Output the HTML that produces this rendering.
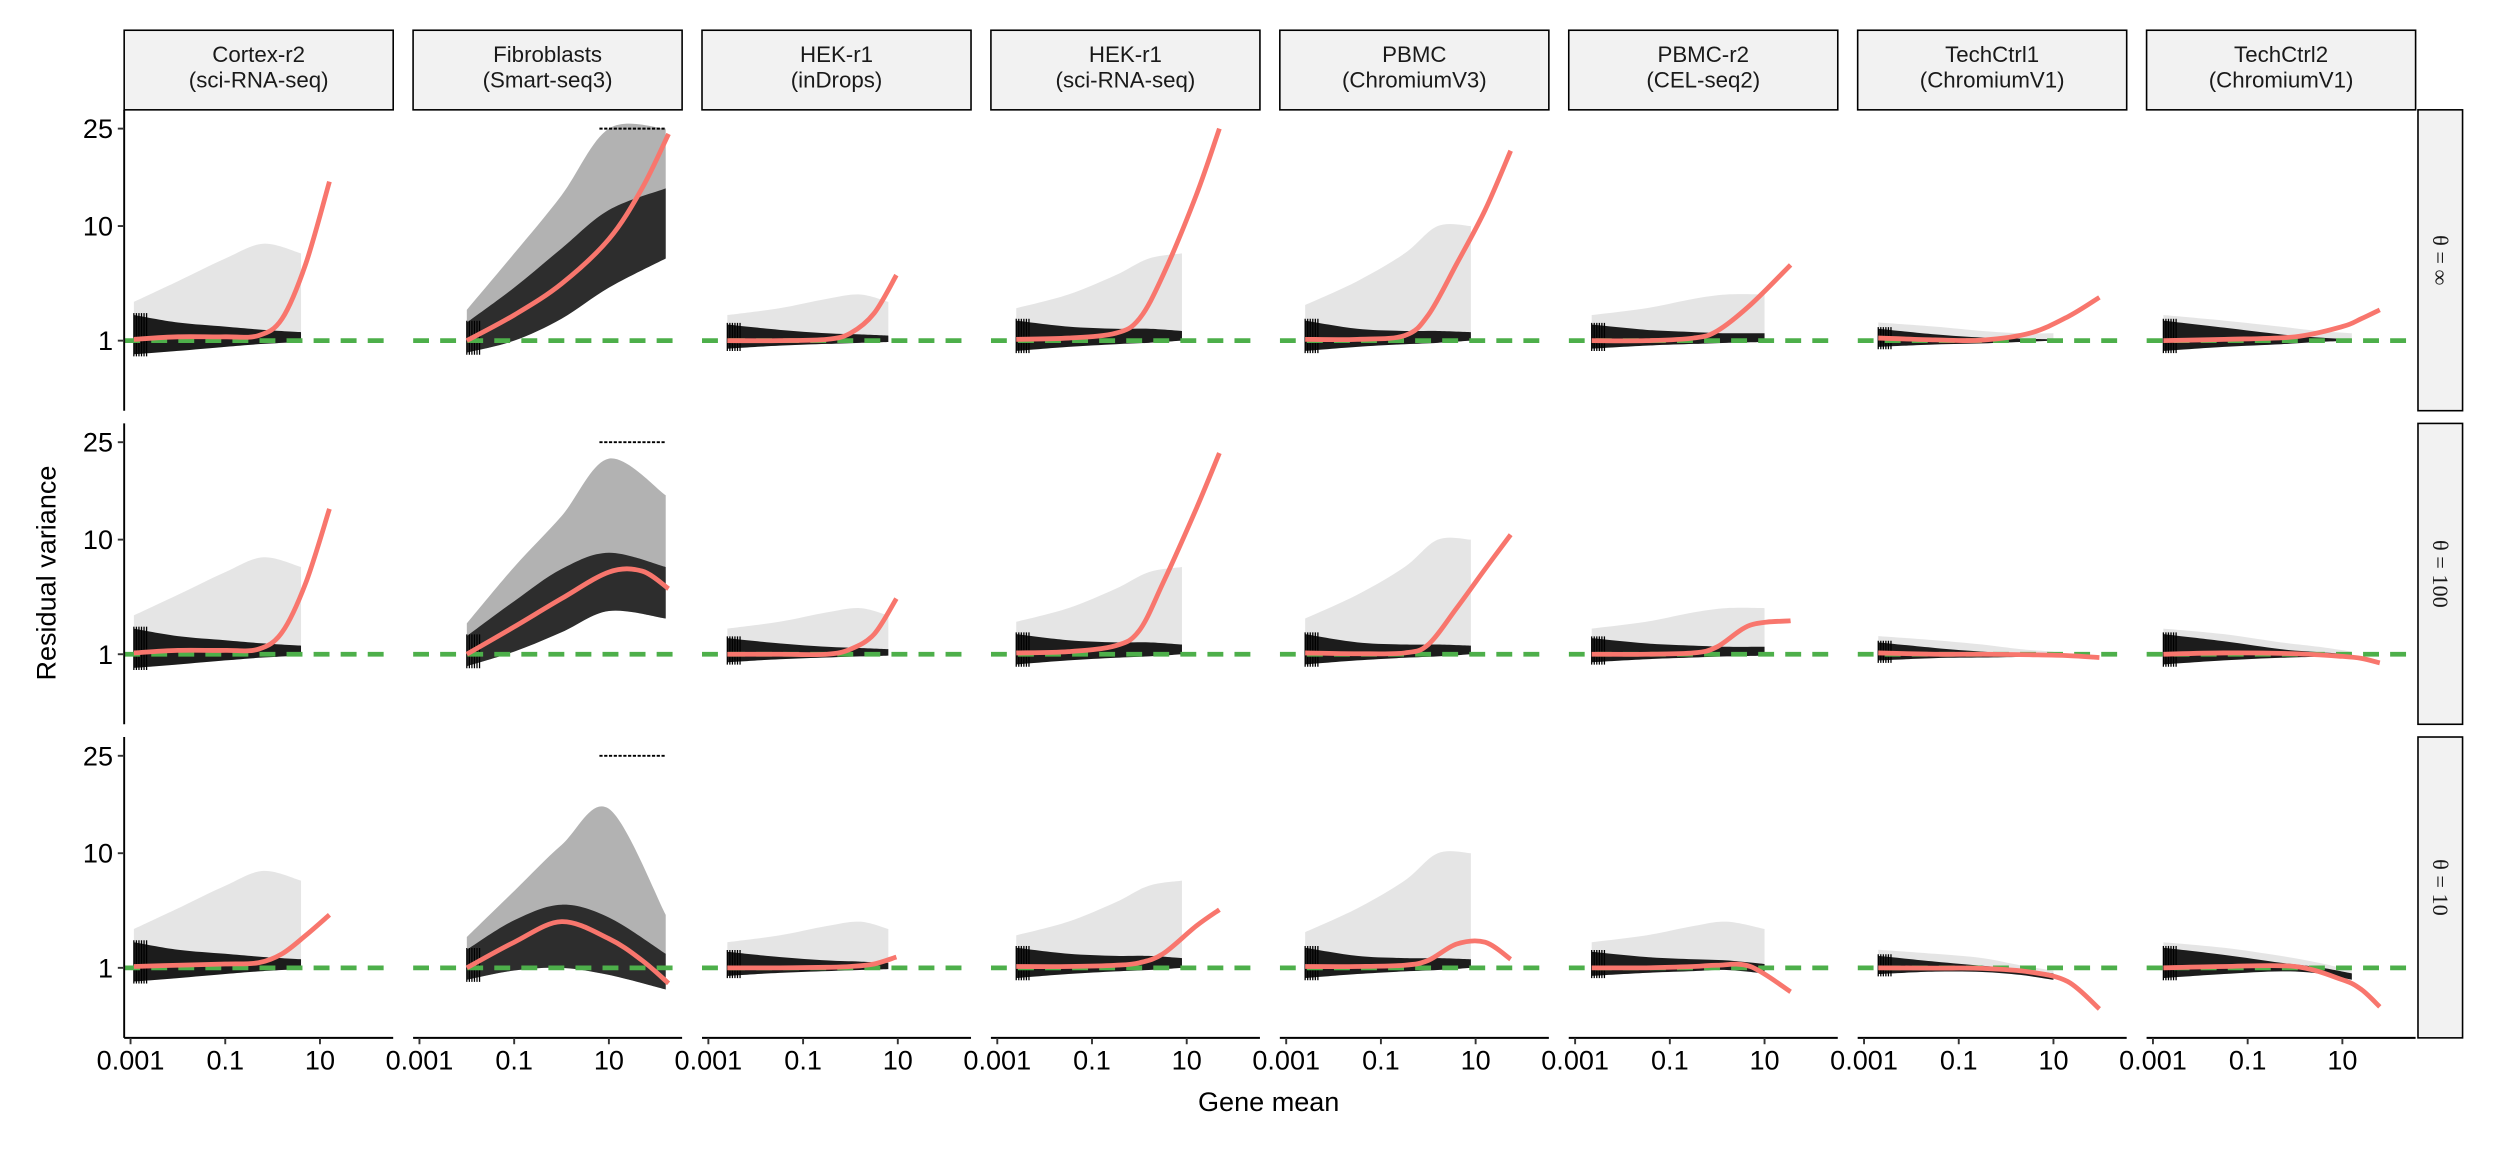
<!DOCTYPE html>
<html><head><meta charset="utf-8"><style>
html,body{margin:0;padding:0;background:#fff;}
svg{display:block;font-family:"Liberation Sans",sans-serif;}
</style></head><body>
<svg id="chart" width="2496" height="1152" viewBox="0 0 1568 723.7" xmlns="http://www.w3.org/2000/svg"></svg>
<script>
// ---- data ----
const datasets = ["Cortex-r2|(sci-RNA-seq)","Fibroblasts|(Smart-seq3)","HEK-r1|(inDrops)","HEK-r1|(sci-RNA-seq)","PBMC|(ChromiumV3)","PBMC-r2|(CEL-seq2)","TechCtrl1|(ChromiumV1)","TechCtrl2|(ChromiumV1)"];
const thetaLabels = ["θ = ∞","θ = 100","θ = 10"];
const yTicks = [1,10,25];
const xTicks = [-3,-1,1];
const xTickLabels = ["0.001","0.1","10"];
const curveX = [
 [-2.93,-2,-1,-0.3,0.2,0.7,1.2],
 [-2.0,-1,0,1,1.7,2.26],
 [-2.6,-1.5,-0.5,0,0.5,0.97],
 [-2.6,-1.5,-0.5,0,0.5,1.2,1.69],
 [-2.6,-1.5,-0.5,0,0.6,1.2,1.74],
 [-2.65,-1.5,-0.5,0,0.7,1.55],
 [-2.7,-1.5,-0.5,0.5,1.3,1.97],
 [-2.78,-1.5,0,1,1.4,1.79]
];
const curveThetaInf = [
 [1.05,1.15,1.15,1.2,2,6,16],
 [1.0,2.2,4.3,8.5,15,24],
 [1,1,1.05,1.3,2.3,5.0],
 [1.05,1.1,1.3,2,5,14,25],
 [1.05,1.05,1.2,2.2,6,12,21],
 [1.0,1.0,1.1,1.4,2.8,5.9],
 [1.1,1.03,1.02,1.3,2.1,3.3],
 [1.0,1.05,1.15,1.6,2.0,2.5]
];
const curveTheta100 = [
 [1.05,1.15,1.15,1.2,2,5.5,14],
 [1.0,2.3,4.2,6.5,6.6,5.0],
 [1,1,1.0,1.2,1.9,4.2],
 [1.05,1.1,1.35,2.1,5.5,14,23],
 [1.05,1.02,1.05,1.4,3.5,6.8,10.6],
 [1,1,1.05,1.3,2.4,2.66],
 [1.05,1.0,1.0,0.98,0.95,0.88],
 [1.0,1.05,1.02,0.92,0.85,0.7]
];
const curveTheta10 = [
 [1.05,1.1,1.15,1.2,1.6,2.6,4.0],
 [1.0,2.2,3.5,2.4,1.3,0.5],
 [1,1,1.02,1.05,1.15,1.45],
 [1.05,1.05,1.1,1.2,1.6,3.2,4.4],
 [1.05,1.05,1.1,1.3,2.1,2.2,1.35],
 [1.0,1.0,1.05,1.1,1.05,0.3],
 [1.0,0.99,0.98,0.85,0.55,0.05],
 [1.0,1.05,1.05,0.6,0.35,0.07]
];
const curves = [curveThetaInf, curveTheta100, curveTheta10];
const cloudX = [
 [-2.93,-2,-1,-0.2,0.6],
 [-2.0,-1,0,1,2.2],
 [-2.6,-1.5,-0.5,0.2,0.8],
 [-2.6,-1.5,-0.5,0.2,0.9],
 [-2.6,-1.5,-0.5,0.2,0.9],
 [-2.65,-1.5,-0.5,0.2,1.0],
 [-2.7,-1.5,-0.5,0.3,1.0],
 [-2.78,-1.5,-0.3,0.5,1.2]
];
const coreHi = [
 [[2.2,1.8,1.6,1.45,1.35],[1.8,4,7.5,12,15],[1.7,1.45,1.3,1.25,1.2],[1.9,1.6,1.5,1.5,1.4],[1.9,1.5,1.4,1.4,1.35],[1.7,1.45,1.35,1.3,1.3],[1.5,1.25,1.12,1.08,1.05],[1.9,1.55,1.25,1.12,1.05]],
 [[2.2,1.8,1.6,1.45,1.35],[1.8,4,6.8,8.5,7],[1.7,1.45,1.3,1.25,1.2],[1.9,1.6,1.5,1.5,1.4],[1.9,1.5,1.4,1.4,1.35],[1.7,1.45,1.35,1.3,1.3],[1.5,1.25,1.1,1.03,1.0],[1.9,1.55,1.2,1.08,1.0]],
 [[2.2,1.8,1.6,1.45,1.35],[1.8,3.6,4.8,3.8,1.6],[1.7,1.45,1.3,1.25,1.2],[1.9,1.6,1.5,1.5,1.4],[1.9,1.5,1.4,1.4,1.35],[1.7,1.45,1.35,1.3,1.15],[1.5,1.25,1.08,0.95,0.8],[1.9,1.55,1.2,1.02,0.8]]
];
const coreLo = [
 [[0.55,0.65,0.78,0.88,0.95],[0.6,1.0,2.0,4.0,6.5],[0.72,0.82,0.88,0.92,0.95],[0.65,0.78,0.87,0.92,1.0],[0.65,0.78,0.87,0.92,1.0],[0.72,0.82,0.88,0.92,0.95],[0.78,0.86,0.9,0.95,1.0],[0.65,0.78,0.87,0.95,1.0]],
 [[0.55,0.65,0.78,0.88,0.95],[0.6,1.1,2.0,3.3,2.8],[0.72,0.82,0.88,0.92,0.95],[0.65,0.78,0.87,0.92,1.0],[0.65,0.78,0.87,0.92,1.0],[0.72,0.82,0.88,0.92,0.95],[0.78,0.86,0.88,0.9,0.9],[0.65,0.78,0.87,0.9,0.85]],
 [[0.55,0.65,0.78,0.88,0.95],[0.6,0.9,1.0,0.75,0.35],[0.72,0.82,0.88,0.92,0.95],[0.65,0.78,0.87,0.92,1.0],[0.65,0.78,0.87,0.92,1.0],[0.72,0.82,0.88,0.92,0.8],[0.78,0.86,0.85,0.75,0.6],[0.65,0.78,0.87,0.8,0.6]]
];
const sparseHi = [
 [[3.0,4.5,6.5,8,7],[2.5,7,14,25,25],[2.2,2.6,3.2,3.5,3],[2.6,3.5,5,6.5,7],[2.8,4.5,7,10,10],[2.2,2.6,3.2,3.5,3.5],[1.8,1.6,1.4,1.3,1.3],[2.2,1.9,1.6,1.4,1.3]],
 [[3.0,4.5,6.5,8,7],[2.5,7,13,22,16],[2.2,2.6,3.2,3.5,3],[2.6,3.5,5,6.5,7],[2.8,4.5,7,10,10],[2.2,2.6,3.2,3.5,3.5],[1.8,1.6,1.4,1.2,1.1],[2.2,1.9,1.5,1.3,1.1]],
 [[3.0,4.5,6.5,8,7],[2.5,6,11,16,4],[2.2,2.6,3.2,3.5,3],[2.6,3.5,5,6.5,7],[2.8,4.5,7,10,10],[2.2,2.6,3.2,3.5,3],[1.8,1.6,1.4,1.1,0.9],[2.2,1.9,1.5,1.2,0.9]]
];

// ---- layout ----
const svg = document.getElementById('chart');
const NS = 'http://www.w3.org/2000/svg';
const colStep = 181.5, panelW = 169, panelL = 78;
const rowTop = [69, 266, 463], rowBot = [258, 455, 652], rowBase = [214, 411, 608];
const decPx = 29.75, sqrtPx = 33.3;
const xScale = (c, lx) => 82 + c * colStep + (lx + 3) * decPx;
const yScale = (r, v) => rowBase[r] - (Math.sqrt(Math.max(v, 0)) - 1) * sqrtPx;
function mk(tag, attrs, parent) {
  const e = document.createElementNS(NS, tag);
  for (const k in attrs) e.setAttribute(k, attrs[k]);
  (parent || svg).appendChild(e);
  return e;
}
function smooth(pts) {
  let d = 'M' + pts[0][0].toFixed(2) + ',' + pts[0][1].toFixed(2);
  for (let i = 0; i < pts.length - 1; i++) {
    const p0 = pts[Math.max(i - 1, 0)], p1 = pts[i], p2 = pts[i + 1], p3 = pts[Math.min(i + 2, pts.length - 1)];
    const c1 = [p1[0] + (p2[0] - p0[0]) / 6, p1[1] + (p2[1] - p0[1]) / 6];
    const c2 = [p2[0] - (p3[0] - p1[0]) / 6, p2[1] - (p3[1] - p1[1]) / 6];
    d += 'C' + c1[0].toFixed(2) + ',' + c1[1].toFixed(2) + ' ' + c2[0].toFixed(2) + ',' + c2[1].toFixed(2) + ' ' + p2[0].toFixed(2) + ',' + p2[1].toFixed(2);
  }
  return d;
}
const defs = mk('defs', {});
for (let r = 0; r < 3; r++) for (let c = 0; c < 8; c++) {
  const cp = mk('clipPath', { id: 'clip' + r + '_' + c }, defs);
  mk('rect', { x: panelL + c * colStep, y: rowTop[r], width: panelW, height: rowBot[r] - rowTop[r] }, cp);
}

datasets.forEach((name, c) => {
  const g = mk('g', {});
  
  
  mk('rect', { x: panelL + c * colStep, y: 19, width: panelW, height: 50, fill: '#F2F2F2', stroke: '#000', 'stroke-width': 1 }, g);
  name.split('|').forEach((t, i) => {
    const tx = mk('text', { x: panelL + c * colStep + panelW / 2, y: 39 + i * 16, 'text-anchor': 'middle', 'font-size': 14, fill: '#1a1a1a' }, g);
    tx.textContent = t;
  });
});
thetaLabels.forEach((t, r) => {
  const g = mk('g', {});
  
  
  mk('rect', { x: 1519, y: rowTop[r], width: 28, height: rowBot[r] - rowTop[r], fill: '#F2F2F2', stroke: '#000', 'stroke-width': 1 }, g);
  const cy = (rowTop[r] + rowBot[r]) / 2;
  const tx = mk('text', { x: 1533, y: cy, 'text-anchor': 'middle', 'dominant-baseline': 'central', 'font-size': 14, 'font-family': 'Liberation Serif, serif', transform: 'rotate(90 1533 ' + cy + ')', fill: '#1a1a1a' }, g);
  tx.textContent = t;
});

for (let r = 0; r < 3; r++) {
  for (let c = 0; c < 8; c++) {
    const g = mk('g', { 'clip-path': 'url(#clip' + r + '_' + c + ')' });
    
    
    const xs = cloudX[c];
    const sp = xs.map((x, i) => [xScale(c, x), yScale(r, sparseHi[r][c][i])]);
    const spLo = xs.map((x, i) => [xScale(c, x), yScale(r, coreLo[r][c][i])]).reverse();
    const sparse = mk('path', { d: smooth(sp) + 'L' + smooth(spLo).slice(1) + 'Z', fill: '#000', 'fill-opacity': c === 1 ? 0.3 : 0.1 }, g);
    
    
    const hi = xs.map((x, i) => [xScale(c, x), yScale(r, coreHi[r][c][i])]);
    const lo = xs.map((x, i) => [xScale(c, x), yScale(r, coreLo[r][c][i])]).reverse();
    const core = mk('path', { d: smooth(hi) + 'L' + smooth(lo).slice(1) + 'Z', fill: '#000', 'fill-opacity': c === 1 ? 0.75 : 0.88 }, g);
    
    
    for (let k = 0; k < 6; k++) {
      const x = xScale(c, xs[0]) + k * 1.6;
      const st = mk('line', { x1: x, x2: x, y1: yScale(r, coreHi[r][c][0] * 1.05), y2: yScale(r, coreLo[r][c][0] * 0.9), stroke: '#000', 'stroke-width': 0.8 }, g);
      
      
    }
    if (c === 1) {
      const cap = mk('line', { x1: xScale(c, 0.8), x2: xScale(c, 2.2), y1: yScale(r, 25), y2: yScale(r, 25), stroke: '#000', 'stroke-width': 1.2, 'stroke-dasharray': '2 1' }, g);
      
      
    }
    const ref = mk('line', { x1: panelL + c * colStep, x2: panelL + c * colStep + panelW, y1: yScale(r, 1), y2: yScale(r, 1), stroke: '#4DAF4A', 'stroke-width': 3, 'stroke-dasharray': '10 7' }, g);
    
    
    const pts = curveX[c].map((x, i) => [xScale(c, x), yScale(r, curves[r][c][i])]);
    const tr = mk('path', { d: smooth(pts), fill: 'none', stroke: '#F8766D', 'stroke-width': 3 }, g);
    
    
  }
  const ya = mk('g', {});
  
  
  mk('line', { x1: panelL, x2: panelL, y1: rowTop[r], y2: rowBot[r], stroke: '#000', 'stroke-width': 1.2 }, ya);
  yTicks.forEach(v => {
    const y = yScale(r, v);
    mk('line', { x1: panelL - 4, x2: panelL, y1: y, y2: y, stroke: '#333', 'stroke-width': 1.2 }, ya);
    const t = mk('text', { x: panelL - 7, y: y + 6, 'text-anchor': 'end', 'font-size': 17, fill: '#000' }, ya);
    t.textContent = v;
  });
}
for (let c = 0; c < 8; c++) {
  const xa = mk('g', {});
  
  
  mk('line', { x1: panelL + c * colStep, x2: panelL + c * colStep + panelW, y1: 652, y2: 652, stroke: '#000', 'stroke-width': 1.2 }, xa);
  xTicks.forEach((lx, i) => {
    const x = xScale(c, lx);
    mk('line', { x1: x, x2: x, y1: 652, y2: 656, stroke: '#333', 'stroke-width': 1.2 }, xa);
    const t = mk('text', { x: x, y: 672, 'text-anchor': 'middle', 'font-size': 17, fill: '#000' }, xa);
    t.textContent = xTickLabels[i];
  });
}
const xt = mk('text', { x: 797, y: 698, 'text-anchor': 'middle', 'font-size': 17, fill: '#000' });
xt.textContent = 'Gene mean';


const yt = mk('text', { x: 35, y: 360, 'text-anchor': 'middle', 'font-size': 17, fill: '#000', transform: 'rotate(-90 35 360)' });
yt.textContent = 'Residual variance';


</script>
</body></html>
